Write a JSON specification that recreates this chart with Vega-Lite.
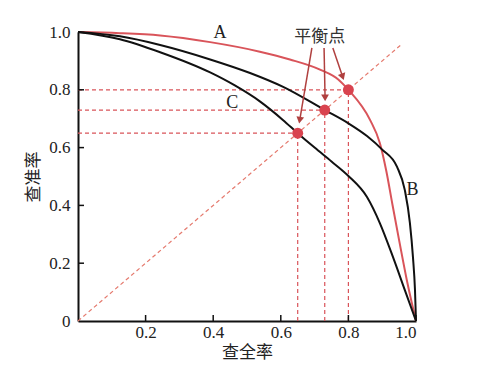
{
  "$schema": "https://vega.github.io/schema/vega-lite/v6.json",
  "width": 338,
  "height": 289,
  "autosize": "none",
  "padding": {"left": 78, "top": 32, "right": 84, "bottom": 47},
  "background": "white",
  "config": {
    "view": {"stroke": null},
    "axis": {
      "grid": false,
      "domainColor": "#111",
      "domainWidth": 2,
      "ticks": false,
      "labelFont": "Liberation Serif",
      "labelFontSize": 17,
      "labelColor": "#222",
      "titleFont": "Noto Sans CJK SC",
      "titleFontSize": 17,
      "titleFontWeight": "normal",
      "titleColor": "#222"
    }
  },
  "datasets": {
    "curves": [
      {"curve": "A", "recall": 0.0, "precision": 1.0},
      {"curve": "A", "recall": 0.124, "precision": 0.996},
      {"curve": "A", "recall": 0.243, "precision": 0.988},
      {"curve": "A", "recall": 0.391, "precision": 0.965},
      {"curve": "A", "recall": 0.538, "precision": 0.932},
      {"curve": "A", "recall": 0.627, "precision": 0.905},
      {"curve": "A", "recall": 0.716, "precision": 0.87},
      {"curve": "A", "recall": 0.77, "precision": 0.836},
      {"curve": "A", "recall": 0.8, "precision": 0.8},
      {"curve": "A", "recall": 0.864, "precision": 0.696},
      {"curve": "A", "recall": 0.893, "precision": 0.616},
      {"curve": "A", "recall": 0.912, "precision": 0.52},
      {"curve": "A", "recall": 0.93, "precision": 0.405},
      {"curve": "A", "recall": 0.95, "precision": 0.28},
      {"curve": "A", "recall": 0.974, "precision": 0.135},
      {"curve": "A", "recall": 1.0, "precision": 0.0},
      {"curve": "B", "recall": 0.0, "precision": 1.0},
      {"curve": "B", "recall": 0.124, "precision": 0.985},
      {"curve": "B", "recall": 0.243, "precision": 0.955},
      {"curve": "B", "recall": 0.391, "precision": 0.905},
      {"curve": "B", "recall": 0.509, "precision": 0.858},
      {"curve": "B", "recall": 0.607, "precision": 0.81},
      {"curve": "B", "recall": 0.73, "precision": 0.73},
      {"curve": "B", "recall": 0.8, "precision": 0.684},
      {"curve": "B", "recall": 0.855, "precision": 0.64},
      {"curve": "B", "recall": 0.9, "precision": 0.593},
      {"curve": "B", "recall": 0.944, "precision": 0.533},
      {"curve": "B", "recall": 0.967, "precision": 0.453},
      {"curve": "B", "recall": 0.982, "precision": 0.339},
      {"curve": "B", "recall": 0.991, "precision": 0.221},
      {"curve": "B", "recall": 0.997, "precision": 0.107},
      {"curve": "B", "recall": 1.0, "precision": 0.0},
      {"curve": "C", "recall": 0.0, "precision": 1.0},
      {"curve": "C", "recall": 0.124, "precision": 0.975},
      {"curve": "C", "recall": 0.243, "precision": 0.93},
      {"curve": "C", "recall": 0.391, "precision": 0.86},
      {"curve": "C", "recall": 0.464, "precision": 0.815},
      {"curve": "C", "recall": 0.538, "precision": 0.76},
      {"curve": "C", "recall": 0.607, "precision": 0.695},
      {"curve": "C", "recall": 0.65, "precision": 0.65},
      {"curve": "C", "recall": 0.7, "precision": 0.6},
      {"curve": "C", "recall": 0.75, "precision": 0.552},
      {"curve": "C", "recall": 0.8, "precision": 0.502},
      {"curve": "C", "recall": 0.855, "precision": 0.429},
      {"curve": "C", "recall": 0.893, "precision": 0.339},
      {"curve": "C", "recall": 0.932, "precision": 0.221},
      {"curve": "C", "recall": 0.967, "precision": 0.107},
      {"curve": "C", "recall": 1.0, "precision": 0.0}
    ],
    "bep": [
      {"curve": "C", "v": 0.65, "zero": 0},
      {"curve": "B", "v": 0.73, "zero": 0},
      {"curve": "A", "v": 0.8, "zero": 0}
    ],
    "ticks": [
      {"v": 0.2, "zero": 0},
      {"v": 0.4, "zero": 0},
      {"v": 0.6, "zero": 0},
      {"v": 0.8, "zero": 0},
      {"v": 1.0, "zero": 0}
    ],
    "diag": [
      {"x": 0, "y": 0, "x2": 0.955, "y2": 0.955}
    ],
    "arrows": [
      {"x": 0.692, "y": 0.945, "x2": 0.656, "y2": 0.695, "angle": 10},
      {"x": 0.728, "y": 0.945, "x2": 0.731, "y2": 0.772, "angle": -1},
      {"x": 0.754, "y": 0.945, "x2": 0.783, "y2": 0.845, "angle": -19}
    ],
    "letters": [
      {"text": "A", "x": 0.42, "y": 0.995},
      {"text": "B", "x": 0.99, "y": 0.455},
      {"text": "C", "x": 0.456, "y": 0.755}
    ],
    "title": [
      {"text": "平衡点", "x": 0.715, "y": 0.982}
    ]
  },
  "encoding": {
    "x": {"type": "quantitative", "scale": {"domain": [0, 1]},
      "axis": {"values": [0, 0.2, 0.4, 0.6, 0.8, 1.0], "labelExpr": "datum.value == 0 ? '' : format(datum.value, '.1f')", "labelPadding": 3, "title": "查全率", "titlePadding": 4}},
    "y": {"type": "quantitative", "scale": {"domain": [0, 1]},
      "axis": {"values": [0, 0.2, 0.4, 0.6, 0.8, 1.0], "labelExpr": "datum.value == 0 ? '0' : format(datum.value, '.1f')", "labelPadding": 8, "title": "查准率", "titlePadding": 6}}
  },
  "layer": [
    {
      "data": {"name": "bep"},
      "mark": {"type": "rule", "color": "#d9545a", "strokeWidth": 1.2, "strokeDash": [4, 3]},
      "encoding": {
        "x": {"field": "zero", "type": "quantitative"},
        "x2": {"field": "v"},
        "y": {"field": "v", "type": "quantitative"}
      }
    },
    {
      "data": {"name": "bep"},
      "mark": {"type": "rule", "color": "#d9545a", "strokeWidth": 1.2, "strokeDash": [4, 3]},
      "encoding": {
        "x": {"field": "v", "type": "quantitative"},
        "y": {"field": "zero", "type": "quantitative"},
        "y2": {"field": "v"}
      }
    },
    {
      "data": {"name": "diag"},
      "mark": {"type": "rule", "color": "#e57a6e", "strokeWidth": 1.2, "strokeDash": [4, 3]},
      "encoding": {
        "x": {"field": "x", "type": "quantitative"},
        "y": {"field": "y", "type": "quantitative"},
        "x2": {"field": "x2"},
        "y2": {"field": "y2"}
      }
    },
    {
      "data": {"name": "ticks"},
      "mark": {"type": "tick", "orient": "vertical", "color": "#111", "thickness": 1.5, "size": 6, "yOffset": -3, "opacity": 1},
      "encoding": {
        "x": {"field": "v", "type": "quantitative"},
        "y": {"field": "zero", "type": "quantitative"}
      }
    },
    {
      "data": {"name": "ticks"},
      "mark": {"type": "tick", "orient": "horizontal", "color": "#111", "thickness": 1.5, "size": 6, "xOffset": 3, "opacity": 1},
      "encoding": {
        "x": {"field": "zero", "type": "quantitative"},
        "y": {"field": "v", "type": "quantitative"}
      }
    },
    {
      "data": {"name": "curves"},
      "mark": {"type": "line", "interpolate": "monotone", "strokeWidth": 2},
      "encoding": {
        "x": {"field": "recall", "type": "quantitative"},
        "y": {"field": "precision", "type": "quantitative"},
        "detail": {"field": "curve"},
        "color": {"field": "curve", "type": "nominal", "scale": {"domain": ["A", "B", "C"], "range": ["#d9545a", "#111111", "#111111"]}, "legend": null}
      }
    },
    {
      "data": {"name": "bep"},
      "mark": {"type": "point", "filled": true, "size": 120, "color": "#d9434f", "opacity": 1},
      "encoding": {
        "x": {"field": "v", "type": "quantitative"},
        "y": {"field": "v", "type": "quantitative"}
      }
    },
    {
      "data": {"name": "arrows"},
      "mark": {"type": "rule", "color": "#b0403f", "strokeWidth": 1.5},
      "encoding": {
        "x": {"field": "x", "type": "quantitative"},
        "y": {"field": "y", "type": "quantitative"},
        "x2": {"field": "x2"},
        "y2": {"field": "y2"}
      }
    },
    {
      "data": {"name": "arrows"},
      "mark": {"type": "point", "shape": "triangle-down", "filled": true, "size": 60, "color": "#b0403f", "opacity": 1},
      "encoding": {
        "x": {"field": "x2", "type": "quantitative"},
        "y": {"field": "y2", "type": "quantitative"},
        "angle": {"field": "angle", "type": "quantitative", "scale": null}
      }
    },
    {
      "data": {"name": "letters"},
      "mark": {"type": "text", "font": "Liberation Serif", "fontSize": 18, "color": "#222"},
      "encoding": {
        "x": {"field": "x", "type": "quantitative"},
        "y": {"field": "y", "type": "quantitative"},
        "text": {"field": "text"}
      }
    },
    {
      "data": {"name": "title"},
      "mark": {"type": "text", "font": "Noto Sans CJK SC", "fontSize": 17, "color": "#333"},
      "encoding": {
        "x": {"field": "x", "type": "quantitative"},
        "y": {"field": "y", "type": "quantitative"},
        "text": {"field": "text"}
      }
    }
  ]
}
